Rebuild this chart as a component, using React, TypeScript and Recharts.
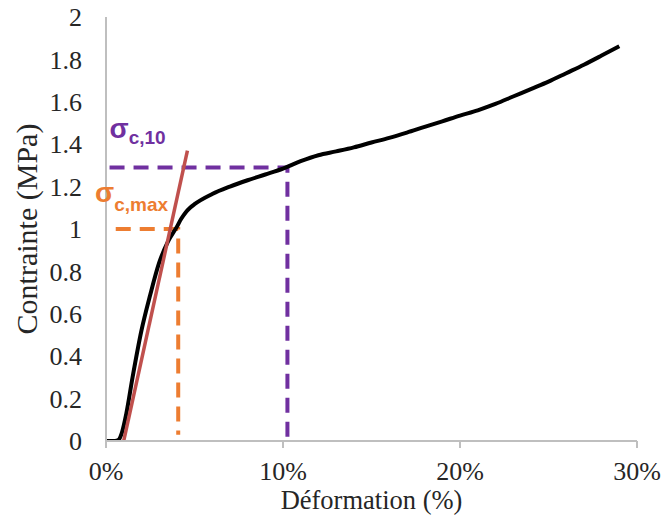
import { Label, Line, LineChart, ReferenceDot, XAxis, YAxis } from "recharts";

// strain (%) / stress (MPa)
const strain = [
  0, 0.5, 0.7, 0.9, 1.15, 1.5, 2, 2.5, 3, 3.5, 4, 4.25, 4.5, 4.75, 5, 6, 7, 8, 9,
  10, 11, 12, 13, 14, 15, 16, 17, 18, 19, 20, 21, 22, 23, 24, 25, 26, 27, 28, 29,
];
const stress = [
  0, 0, 0.005, 0.04, 0.13, 0.3, 0.52, 0.69, 0.84, 0.94, 1.01, 1.048, 1.078, 1.1,
  1.117, 1.165, 1.2, 1.23, 1.257, 1.285, 1.32, 1.348, 1.366, 1.385, 1.408, 1.43,
  1.455, 1.482, 1.508, 1.535, 1.56, 1.59, 1.625, 1.66, 1.695, 1.735, 1.775, 1.818,
  1.862,
];

// tangent (modulus) line
const tangentX = [1, 4.6];
const tangentY = [0, 1.37];

// sigma c,10 guide
const s10X = [0.2, 10.25, 10.25];
const s10Y = [1.29, 1.29, 0];

// sigma c,max guide
const sMaxX = [0.55, 4.08, 4.08];
const sMaxY = [1.0, 1.0, 0.03];

const xTicks = [0, 10, 20, 30];
const yTicks = [0, 0.2, 0.4, 0.6, 0.8, 1, 1.2, 1.4, 1.6, 1.8, 2];

const zip = (xs: number[], ys: number[]) => xs.map((x, i) => ({ x, y: ys[i] }));

const curve = zip(strain, stress);
const tangent = zip(tangentX, tangentY);
const s10 = zip(s10X, s10Y);
const sMax = zip(sMaxX, sMaxY);

const PURPLE = "#7030A0";
const ORANGE = "#ED7D31";
const AXIS = "#BFBFBF";
const serif = "'Liberation Serif', 'Times New Roman', serif";
const sans = "'Liberation Sans', Arial, sans-serif";

export default function App() {
  return (
    <div style={{ position: "absolute", left: 0, top: 0, width: 668, height: 517, background: "#fff" }}>
      <LineChart
        width={668}
        height={517}
        margin={{ top: 17, right: 31, left: 0, bottom: 0 }}
      >
        <XAxis
          type="number"
          dataKey="x"
          domain={[0, 30]}
          ticks={xTicks}
          tickFormatter={(v) => `${v}%`}
          height={76}
          stroke={AXIS}
          strokeWidth={2}
          tickSize={7}
          tickMargin={14}
          tick={{ fill: "#262626", fontSize: 26, fontFamily: serif }}
          allowDataOverflow
        >
          <Label
            content={({ viewBox }: any) => (
              <text
                x={viewBox.x + viewBox.width / 2}
                y={viewBox.y + 68}
                textAnchor="middle"
                fontSize={26.5}
                fontFamily={serif}
                fill="#262626"
              >
                Déformation (%)
              </text>
            )}
          />
        </XAxis>
        <YAxis
          type="number"
          domain={[0, 2]}
          ticks={yTicks}
          width={106}
          stroke={AXIS}
          strokeWidth={2}
          tickLine={false}
          tickSize={0}
          tickMargin={24}
          tick={{ fill: "#262626", fontSize: 26, fontFamily: serif }}
          allowDataOverflow
        >
          <Label
            content={({ viewBox }: any) => {
              const cx = 26;
              const cy = viewBox.y + viewBox.height / 2;
              return (
                <text
                  x={cx}
                  y={cy}
                  transform={`rotate(-90, ${cx}, ${cy})`}
                  textAnchor="middle"
                  dominantBaseline="central"
                  fontSize={30}
                  fontFamily={serif}
                  fill="#262626"
                >
                  Contrainte (MPa)
                </text>
              );
            }}
          />
        </YAxis>
        <Line
          data={s10}
          dataKey="y"
          stroke={PURPLE}
          strokeWidth={4}
          strokeDasharray="15 9"
          dot={false}
          type="linear"
          isAnimationActive={false}
        />
        <Line
          data={sMax}
          dataKey="y"
          stroke={ORANGE}
          strokeWidth={4}
          strokeDasharray="15 9"
          dot={false}
          type="linear"
          isAnimationActive={false}
        />
        <Line
          data={curve}
          dataKey="y"
          stroke="#000"
          strokeWidth={4}
          dot={false}
          type="monotone"
          isAnimationActive={false}
        />
        <Line
          data={tangent}
          dataKey="y"
          stroke="#C0504D"
          strokeWidth={3.5}
          dot={false}
          type="linear"
          isAnimationActive={false}
        />
        <ReferenceDot
          x={0.2}
          y={1.43}
          r={0}
          ifOverflow="visible"
          label={{
            content: ({ viewBox }: any) => (
              <text x={viewBox.x} y={viewBox.y} fill={PURPLE} fontFamily={sans} fontWeight="bold">
                <tspan fontSize={28}>σ</tspan>
                <tspan fontSize={19} dy={6}>c,10</tspan>
              </text>
            ),
          }}
        />
        <ReferenceDot
          x={0}
          y={1.128}
          r={0}
          ifOverflow="visible"
          label={{
            content: ({ viewBox }: any) => (
              <text x={viewBox.x - 11} y={viewBox.y} fill={ORANGE} fontFamily={sans} fontWeight="bold">
                <tspan fontSize={28}>σ</tspan>
                <tspan fontSize={19} dy={9}>c,max</tspan>
              </text>
            ),
          }}
        />
      </LineChart>
    </div>
  );
}
